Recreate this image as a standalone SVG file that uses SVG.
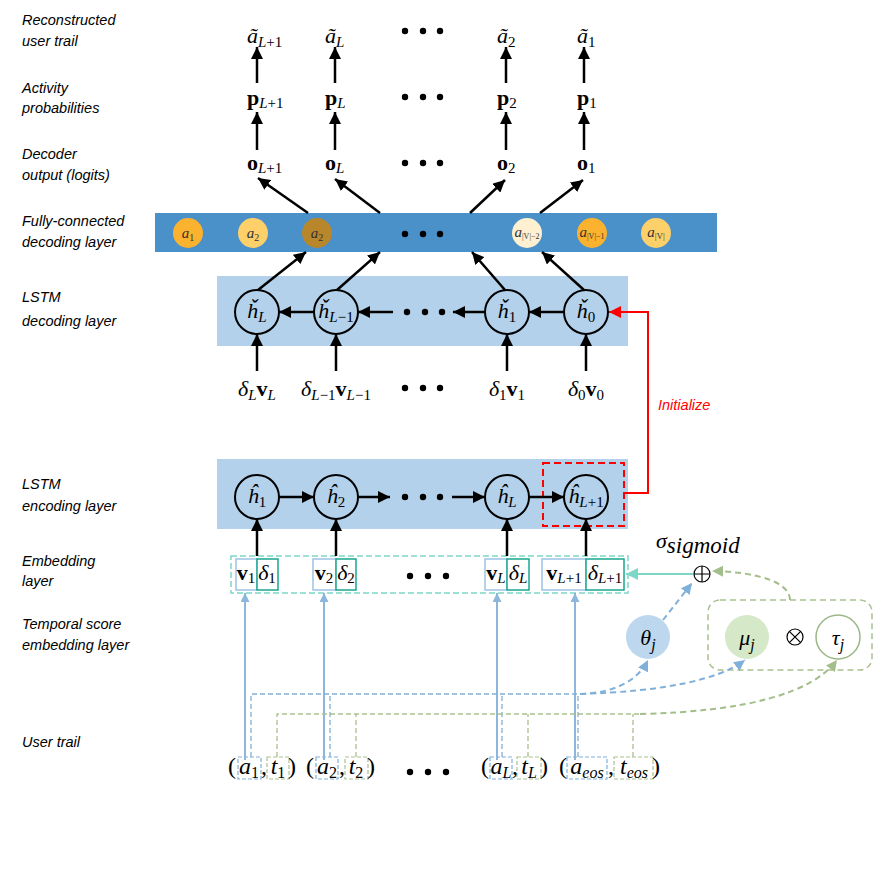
<svg xmlns="http://www.w3.org/2000/svg" width="882" height="892" viewBox="0 0 882 892">
<defs>
<style>
.lbl{font-family:"Liberation Sans","DejaVu Sans",sans-serif;font-style:italic;font-size:14.5px;fill:#000}
.m{font-family:"Liberation Serif","DejaVu Serif",serif;font-style:italic;font-size:22px;fill:#000}
.mb{font-family:"Liberation Serif","DejaVu Serif",serif;font-weight:bold;font-size:22px;fill:#000}
.s{font-size:15px;font-style:italic;font-weight:normal}
.sn{font-size:15px;font-style:normal;font-weight:normal}
.ar{stroke:#000;stroke-width:2.5;fill:none}
.node{fill:none;stroke:#000;stroke-width:2}
.dot{fill:#000}
.fcm{font-family:"Liberation Serif","DejaVu Serif",serif;font-style:italic;font-size:15px;fill:#333}
</style>
<marker id="ab" viewBox="0 0 10 10" refX="10" refY="5" markerWidth="12" markerHeight="12" markerUnits="userSpaceOnUse" orient="auto"><path d="M0,0 L10,5 L0,10 z" fill="#000"/></marker>
<marker id="ar" viewBox="0 0 10 10" refX="10" refY="5" markerWidth="12" markerHeight="12" markerUnits="userSpaceOnUse" orient="auto"><path d="M0,0 L10,5 L0,10 z" fill="#FF0000"/></marker>
<marker id="at" viewBox="0 0 10 10" refX="10" refY="5" markerWidth="12" markerHeight="12" markerUnits="userSpaceOnUse" orient="auto"><path d="M0,0 L10,5 L0,10 z" fill="#7DD6C6"/></marker>
<marker id="abl" viewBox="0 0 10 10" refX="10" refY="5" markerWidth="11" markerHeight="11" markerUnits="userSpaceOnUse" orient="auto"><path d="M0,0 L10,5 L0,10 z" fill="#7FB0DA"/></marker>
<marker id="abs" viewBox="0 0 10 10" refX="10" refY="5" markerWidth="9" markerHeight="9" markerUnits="userSpaceOnUse" orient="auto"><path d="M0,0 L10,5 L0,10 z" fill="#8DB6DC"/></marker>
<marker id="ag" viewBox="0 0 10 10" refX="10" refY="5" markerWidth="11" markerHeight="11" markerUnits="userSpaceOnUse" orient="auto"><path d="M0,0 L10,5 L0,10 z" fill="#A3BE8A"/></marker>
</defs>
<rect width="882" height="892" fill="#fff"/>

<g id="labels">
<text class="lbl" x="22" y="25">Reconstructed</text>
<text class="lbl" x="22" y="46">user trail</text>
<text class="lbl" x="22" y="93">Activity</text>
<text class="lbl" x="22" y="113">probabilities</text>
<text class="lbl" x="22" y="159">Decoder</text>
<text class="lbl" x="22" y="180">output (logits)</text>
<text class="lbl" x="22" y="226">Fully-connected</text>
<text class="lbl" x="22" y="247">decoding layer</text>
<text class="lbl" x="22" y="302">LSTM</text>
<text class="lbl" x="22" y="326">decoding layer</text>
<text class="lbl" x="22" y="489">LSTM</text>
<text class="lbl" x="22" y="511">encoding layer</text>
<text class="lbl" x="22" y="566">Embedding</text>
<text class="lbl" x="22" y="586">layer</text>
<text class="lbl" x="22" y="629">Temporal score</text>
<text class="lbl" x="22" y="650">embedding layer</text>
<text class="lbl" x="22" y="747">User trail</text>
</g>

<g id="output-rows">
<text class="m" x="247" y="43">ã<tspan class="s" dy="4">L</tspan><tspan class="sn">+1</tspan></text>
<text class="m" x="325" y="43">ã<tspan class="s" dy="4">L</tspan></text>
<text class="m" x="497" y="43">ã<tspan class="sn" dy="4">2</tspan></text>
<text class="m" x="577" y="43">ã<tspan class="sn" dy="4">1</tspan></text>
<text class="mb" x="247" y="105">p<tspan class="s" dy="3">L</tspan><tspan class="sn">+1</tspan></text>
<text class="mb" x="325" y="105">p<tspan class="s" dy="3">L</tspan></text>
<text class="mb" x="497" y="105">p<tspan class="sn" dy="3">2</tspan></text>
<text class="mb" x="577" y="105">p<tspan class="sn" dy="3">1</tspan></text>
<text class="mb" x="247" y="170">o<tspan class="s" dy="3">L</tspan><tspan class="sn">+1</tspan></text>
<text class="mb" x="325" y="170">o<tspan class="s" dy="3">L</tspan></text>
<text class="mb" x="497" y="170">o<tspan class="sn" dy="3">2</tspan></text>
<text class="mb" x="577" y="170">o<tspan class="sn" dy="3">1</tspan></text>
<circle class="dot" cx="405" cy="31" r="3.2"/><circle class="dot" cx="423" cy="31" r="3.2"/><circle class="dot" cx="440" cy="31" r="3.2"/>
<circle class="dot" cx="405" cy="97" r="3.2"/><circle class="dot" cx="423" cy="97" r="3.2"/><circle class="dot" cx="440" cy="97" r="3.2"/>
<circle class="dot" cx="405" cy="163" r="3.2"/><circle class="dot" cx="423" cy="163" r="3.2"/><circle class="dot" cx="440" cy="163" r="3.2"/>
</g>

<g id="fc-layer">
<rect x="155" y="213" width="562" height="39" fill="#4A90C9"/>
<circle cx="188" cy="233" r="15" fill="#FBB22E"/>
<text class="fcm" x="188" y="238" text-anchor="middle">a<tspan font-size="10" font-style="normal" dy="3">1</tspan></text>
<circle cx="253" cy="233" r="15" fill="#FED06A"/>
<text class="fcm" x="253" y="238" text-anchor="middle">a<tspan font-size="10" font-style="normal" dy="3">2</tspan></text>
<circle cx="317" cy="233" r="15" fill="#B8862B"/>
<text class="fcm" x="317" y="238" text-anchor="middle">a<tspan font-size="10" font-style="normal" dy="3">2</tspan></text>
<circle class="dot" cx="405" cy="234" r="3.2"/><circle class="dot" cx="423" cy="234" r="3.2"/><circle class="dot" cx="440" cy="234" r="3.2"/>
<circle cx="527" cy="233" r="15" fill="#FEF0D0"/>
<text class="fcm" x="527" y="237" text-anchor="middle" font-size="12">a<tspan font-size="8" font-style="normal" dy="2">|V|−2</tspan></text>
<circle cx="592" cy="233" r="15" fill="#FBB22E"/>
<text class="fcm" x="592" y="237" text-anchor="middle" font-size="12">a<tspan font-size="8" font-style="normal" dy="2">|V|−1</tspan></text>
<circle cx="656" cy="233" r="15" fill="#FED06A"/>
<text class="fcm" x="656" y="237" text-anchor="middle" font-size="13">a<tspan font-size="9" font-style="normal" dy="2">|V|</tspan></text>
</g>

<g id="lstm-decoder">
<rect x="217" y="276" width="411" height="70" fill="#B3D1EA"/>
<g id="hd-L"><circle class="node" cx="257" cy="312" r="22"/><text class="m" x="257" y="318" text-anchor="middle">ȟ<tspan class="s" dy="4">L</tspan></text></g>
<g id="hd-L-1"><circle class="node" cx="336" cy="312" r="22"/><text class="m" x="336" y="318" text-anchor="middle" font-size="20">ȟ<tspan class="s" font-size="14" dy="4">L</tspan><tspan class="sn" font-size="14">−1</tspan></text></g>
<circle class="dot" cx="407" cy="312" r="3.2"/><circle class="dot" cx="425" cy="312" r="3.2"/><circle class="dot" cx="442" cy="312" r="3.2"/>
<g id="hd-1"><circle class="node" cx="507" cy="312" r="22"/><text class="m" x="507" y="318" text-anchor="middle">ȟ<tspan class="sn" dy="4">1</tspan></text></g>
<g id="hd-0"><circle class="node" cx="586" cy="312" r="22"/><text class="m" x="586" y="318" text-anchor="middle">ȟ<tspan class="sn" dy="4">0</tspan></text></g>
</g>

<g id="decoder-inputs">
<text class="m" x="257" y="396" text-anchor="middle">δ<tspan class="s" dy="4">L</tspan><tspan font-weight="bold" font-style="normal" dy="-4">v</tspan><tspan class="s" dy="4">L</tspan></text>
<text class="m" x="336" y="396" text-anchor="middle">δ<tspan class="s" dy="4">L</tspan><tspan class="sn">−1</tspan><tspan font-weight="bold" font-style="normal" dy="-4">v</tspan><tspan class="s" dy="4">L</tspan><tspan class="sn">−1</tspan></text>
<circle class="dot" cx="405" cy="388" r="3.2"/><circle class="dot" cx="423" cy="388" r="3.2"/><circle class="dot" cx="440" cy="388" r="3.2"/>
<text class="m" x="507" y="396" text-anchor="middle">δ<tspan class="sn" dy="4">1</tspan><tspan font-weight="bold" font-style="normal" dy="-4">v</tspan><tspan class="sn" dy="4">1</tspan></text>
<text class="m" x="586" y="396" text-anchor="middle">δ<tspan class="sn" dy="4">0</tspan><tspan font-weight="bold" font-style="normal" dy="-4">v</tspan><tspan class="sn" dy="4">0</tspan></text>
<text x="658" y="410" font-family="Liberation Sans, sans-serif" font-style="italic" font-size="14.5" fill="#FF0000">Initialize</text>
</g>

<g id="lstm-encoder">
<rect x="217" y="459" width="411" height="70" fill="#B3D1EA"/>
<g id="he-1"><circle class="node" cx="257" cy="497" r="22"/><text class="m" x="257" y="503" text-anchor="middle">ĥ<tspan class="sn" dy="4">1</tspan></text></g>
<g id="he-2"><circle class="node" cx="336" cy="497" r="22"/><text class="m" x="336" y="503" text-anchor="middle">ĥ<tspan class="sn" dy="4">2</tspan></text></g>
<circle class="dot" cx="405" cy="497" r="3.2"/><circle class="dot" cx="423" cy="497" r="3.2"/><circle class="dot" cx="440" cy="497" r="3.2"/>
<g id="he-L"><circle class="node" cx="507" cy="497" r="22"/><text class="m" x="507" y="503" text-anchor="middle">ĥ<tspan class="s" dy="4">L</tspan></text></g>
<g id="he-L1"><circle class="node" cx="586" cy="497" r="22"/><text class="m" x="586" y="503" text-anchor="middle" font-size="20">ĥ<tspan class="s" font-size="14" dy="4">L</tspan><tspan class="sn" font-size="14">+1</tspan></text></g>
<rect x="543" y="463" width="81" height="63" fill="none" stroke="#FF0000" stroke-width="2" stroke-dasharray="7,4"/>
</g>

<g id="embedding">
<rect x="231" y="556" width="397" height="37" fill="none" stroke="#7DD6C6" stroke-width="1.5" stroke-dasharray="6,3"/>
<rect x="236" y="559" width="21" height="31" fill="#fff" stroke="#9DC3E6" stroke-width="1.5"/>
<rect x="257" y="559" width="21" height="31" fill="#fff" stroke="#1AA68E" stroke-width="1.5"/>
<rect x="313" y="559" width="23" height="31" fill="#fff" stroke="#9DC3E6" stroke-width="1.5"/>
<rect x="336" y="559" width="20" height="31" fill="#fff" stroke="#1AA68E" stroke-width="1.5"/>
<rect x="485" y="559" width="22" height="31" fill="#fff" stroke="#9DC3E6" stroke-width="1.5"/>
<rect x="507" y="559" width="22" height="31" fill="#fff" stroke="#1AA68E" stroke-width="1.5"/>
<rect x="542" y="559" width="44" height="31" fill="#fff" stroke="#9DC3E6" stroke-width="1.5"/>
<rect x="586" y="559" width="38" height="31" fill="#fff" stroke="#1AA68E" stroke-width="1.5"/>
<text class="mb" x="246" y="580" text-anchor="middle">v<tspan class="sn" dy="3">1</tspan></text>
<text class="m" x="267" y="580" text-anchor="middle">δ<tspan class="sn" dy="3">1</tspan></text>
<text class="mb" x="324" y="580" text-anchor="middle">v<tspan class="sn" dy="3">2</tspan></text>
<text class="m" x="346" y="580" text-anchor="middle">δ<tspan class="sn" dy="3">2</tspan></text>
<circle class="dot" cx="410" cy="576" r="3.2"/><circle class="dot" cx="428" cy="576" r="3.2"/><circle class="dot" cx="446" cy="576" r="3.2"/>
<text class="mb" x="496" y="580" text-anchor="middle">v<tspan class="s" dy="3">L</tspan></text>
<text class="m" x="518" y="580" text-anchor="middle">δ<tspan class="s" dy="3">L</tspan></text>
<text class="mb" x="564" y="580" text-anchor="middle">v<tspan class="s" dy="3">L</tspan><tspan class="sn">+1</tspan></text>
<text class="m" x="605" y="580" text-anchor="middle">δ<tspan class="s" dy="3">L</tspan><tspan class="sn">+1</tspan></text>
</g>

<g id="temporal">
<text class="m" x="656" y="548" font-size="30">σ<tspan font-size="23" dy="5">sigmoid</tspan></text>
<g id="oplus"><circle cx="702" cy="574" r="8" fill="#fff" stroke="#000" stroke-width="1.2"/><path d="M694,574 H710 M702,566 V582" stroke="#000" stroke-width="1.2"/></g>
<g id="theta"><circle cx="648" cy="637" r="22" fill="#BDD7EE"/><text class="m" x="648" y="645" font-size="24" text-anchor="middle">θ<tspan font-size="16" dy="5">j</tspan></text></g>
<rect x="708" y="600" width="164" height="70" rx="12" fill="none" stroke="#A9C18F" stroke-width="1.5" stroke-dasharray="6,4"/>
<g id="mu"><circle cx="747" cy="637" r="22" fill="#D5E8C8"/><text class="m" x="747" y="645" font-size="24" text-anchor="middle">μ<tspan font-size="16" dy="5">j</tspan></text></g>
<g id="otimes"><circle cx="795" cy="637" r="8" fill="#fff" stroke="#000" stroke-width="1.2"/><path d="M789.3,631.3 L800.7,642.7 M800.7,631.3 L789.3,642.7" stroke="#000" stroke-width="1.2"/></g>
<g id="tau"><circle cx="838" cy="637" r="22" fill="#fff" stroke="#9CB886" stroke-width="1.5"/><text class="m" x="838" y="645" font-size="24" text-anchor="middle">τ<tspan font-size="16" dy="5">j</tspan></text></g>
</g>

<g id="user-trail">
<rect x="238" y="757" width="23" height="22" fill="none" stroke="#7FB0DA" stroke-width="1.2" stroke-dasharray="4,2"/>
<rect x="267" y="757" width="22" height="22" fill="none" stroke="#A9C18F" stroke-width="1.2" stroke-dasharray="4,2"/>
<rect x="316" y="757" width="22" height="22" fill="none" stroke="#7FB0DA" stroke-width="1.2" stroke-dasharray="4,2"/>
<rect x="345" y="757" width="23" height="22" fill="none" stroke="#A9C18F" stroke-width="1.2" stroke-dasharray="4,2"/>
<rect x="490" y="757" width="22" height="22" fill="none" stroke="#7FB0DA" stroke-width="1.2" stroke-dasharray="4,2"/>
<rect x="517" y="757" width="24" height="22" fill="none" stroke="#A9C18F" stroke-width="1.2" stroke-dasharray="4,2"/>
<rect x="567" y="757" width="40" height="22" fill="none" stroke="#7FB0DA" stroke-width="1.2" stroke-dasharray="4,2"/>
<rect x="614" y="757" width="39" height="22" fill="none" stroke="#A9C18F" stroke-width="1.2" stroke-dasharray="4,2"/>
<g font-family="Liberation Serif, DejaVu Serif, serif" font-size="24" fill="#000">
<text x="228" y="774" font-style="normal">(</text><text x="249" y="774" text-anchor="middle" font-style="italic">a<tspan font-size="16" font-style="normal" dy="4">1</tspan></text><text x="261" y="774">,</text><text x="278" y="774" text-anchor="middle" font-style="italic">t<tspan font-size="16" font-style="normal" dy="4">1</tspan></text><text x="288" y="774">)</text>
<text x="306" y="774">(</text><text x="327" y="774" text-anchor="middle" font-style="italic">a<tspan font-size="16" font-style="normal" dy="4">2</tspan></text><text x="339" y="774">,</text><text x="356" y="774" text-anchor="middle" font-style="italic">t<tspan font-size="16" font-style="normal" dy="4">2</tspan></text><text x="367" y="774">)</text>
<text x="481" y="774">(</text><text x="501" y="774" text-anchor="middle" font-style="italic">a<tspan font-size="16" dy="4">L</tspan></text><text x="512" y="774">,</text><text x="529" y="774" text-anchor="middle" font-style="italic">t<tspan font-size="16" dy="4">L</tspan></text><text x="540" y="774">)</text>
<text x="559" y="774">(</text><text x="587" y="774" text-anchor="middle" font-style="italic">a<tspan font-size="16" dy="4">eos</tspan></text><text x="608" y="774">,</text><text x="634" y="774" text-anchor="middle" font-style="italic">t<tspan font-size="16" dy="4">eos</tspan></text><text x="652" y="774">)</text>
</g>
<circle class="dot" cx="410" cy="772" r="3.2"/><circle class="dot" cx="428" cy="772" r="3.2"/><circle class="dot" cx="446" cy="772" r="3.2"/>
</g>

<g id="connectors">
<line class="ar" x1="257" y1="83" x2="257" y2="47" marker-end="url(#ab)"/>
<line class="ar" x1="335" y1="83" x2="335" y2="47" marker-end="url(#ab)"/>
<line class="ar" x1="506" y1="83" x2="506" y2="47" marker-end="url(#ab)"/>
<line class="ar" x1="584" y1="83" x2="584" y2="47" marker-end="url(#ab)"/>
<line class="ar" x1="257" y1="150" x2="257" y2="112" marker-end="url(#ab)"/>
<line class="ar" x1="335" y1="150" x2="335" y2="112" marker-end="url(#ab)"/>
<line class="ar" x1="506" y1="150" x2="506" y2="112" marker-end="url(#ab)"/>
<line class="ar" x1="584" y1="150" x2="584" y2="112" marker-end="url(#ab)"/>
<line class="ar" x1="308" y1="213" x2="258" y2="178" marker-end="url(#ab)"/>
<line class="ar" x1="380" y1="213" x2="335" y2="179" marker-end="url(#ab)"/>
<line class="ar" x1="470" y1="213" x2="505" y2="180" marker-end="url(#ab)"/>
<line class="ar" x1="540" y1="213" x2="583" y2="180" marker-end="url(#ab)"/>
<line class="ar" x1="258" y1="290" x2="306" y2="252" marker-end="url(#ab)"/>
<line class="ar" x1="337" y1="290" x2="380" y2="252" marker-end="url(#ab)"/>
<line class="ar" x1="505" y1="290" x2="472" y2="252" marker-end="url(#ab)"/>
<line class="ar" x1="584" y1="290" x2="542" y2="252" marker-end="url(#ab)"/>
<line class="ar" x1="314" y1="312" x2="279" y2="312" marker-end="url(#ab)"/>
<line class="ar" x1="393" y1="312" x2="358" y2="312" marker-end="url(#ab)"/>
<line class="ar" x1="485" y1="312" x2="453" y2="312" marker-end="url(#ab)"/>
<line class="ar" x1="564" y1="312" x2="529" y2="312" marker-end="url(#ab)"/>
<line class="ar" x1="257" y1="371" x2="257" y2="334" marker-end="url(#ab)"/>
<line class="ar" x1="336" y1="371" x2="336" y2="334" marker-end="url(#ab)"/>
<line class="ar" x1="507" y1="371" x2="507" y2="334" marker-end="url(#ab)"/>
<line class="ar" x1="586" y1="371" x2="586" y2="334" marker-end="url(#ab)"/>
<path d="M624,493 H648 V312 H609" fill="none" stroke="#FF0000" stroke-width="2" marker-end="url(#ar)"/>
<line class="ar" x1="279" y1="497" x2="314" y2="497" marker-end="url(#ab)"/>
<line class="ar" x1="358" y1="497" x2="390" y2="497" marker-end="url(#ab)"/>
<line class="ar" x1="452" y1="497" x2="485" y2="497" marker-end="url(#ab)"/>
<line class="ar" x1="529" y1="497" x2="564" y2="497" marker-end="url(#ab)"/>
<line class="ar" x1="257" y1="556" x2="257" y2="519" marker-end="url(#ab)"/>
<line class="ar" x1="336" y1="556" x2="336" y2="519" marker-end="url(#ab)"/>
<line class="ar" x1="507" y1="556" x2="507" y2="519" marker-end="url(#ab)"/>
<line class="ar" x1="586" y1="556" x2="586" y2="519" marker-end="url(#ab)"/>
<line x1="693" y1="574" x2="626" y2="574" stroke="#7DD6C6" stroke-width="2" marker-end="url(#at)"/>
<line x1="663" y1="620" x2="692" y2="583" stroke="#7FB0DA" stroke-width="2" stroke-dasharray="6,4" marker-end="url(#abl)"/>
<path d="M790,600 C790,583 760,572 712,571" fill="none" stroke="#A3BE8A" stroke-width="2" stroke-dasharray="6,4" marker-end="url(#ag)"/>
<g fill="none" stroke="#8DB6DC" stroke-width="2">
<line x1="245" y1="760" x2="245" y2="593" marker-end="url(#abs)"/>
<line x1="324" y1="760" x2="324" y2="593" marker-end="url(#abs)"/>
<line x1="497" y1="760" x2="497" y2="593" marker-end="url(#abs)"/>
<line x1="575" y1="760" x2="575" y2="593" marker-end="url(#abs)"/>
</g>
<g fill="none" stroke="#7FB0DA" stroke-width="1.3" stroke-dasharray="5,3">
<path d="M251,757 V694 H580"/>
<path d="M330,757 V694"/>
<path d="M502,757 V694"/>
<path d="M578,757 V694"/>
</g>
<g fill="none" stroke="#A9C18F" stroke-width="1.3" stroke-dasharray="5,3">
<path d="M277,757 V714 H640"/>
<path d="M356,757 V714"/>
<path d="M528,757 V714"/>
<path d="M633,757 V714"/>
</g>
<path d="M580,694 Q632,692 648,660" fill="none" stroke="#7FB0DA" stroke-width="2" stroke-dasharray="6,4" marker-end="url(#abl)"/>
<path d="M580,694 Q705,690 745,660" fill="none" stroke="#7FB0DA" stroke-width="2" stroke-dasharray="6,4" marker-end="url(#abl)"/>
<path d="M640,714 Q800,710 837,660" fill="none" stroke="#A3BE8A" stroke-width="2" stroke-dasharray="6,4" marker-end="url(#ag)"/>
</g>
</svg>
